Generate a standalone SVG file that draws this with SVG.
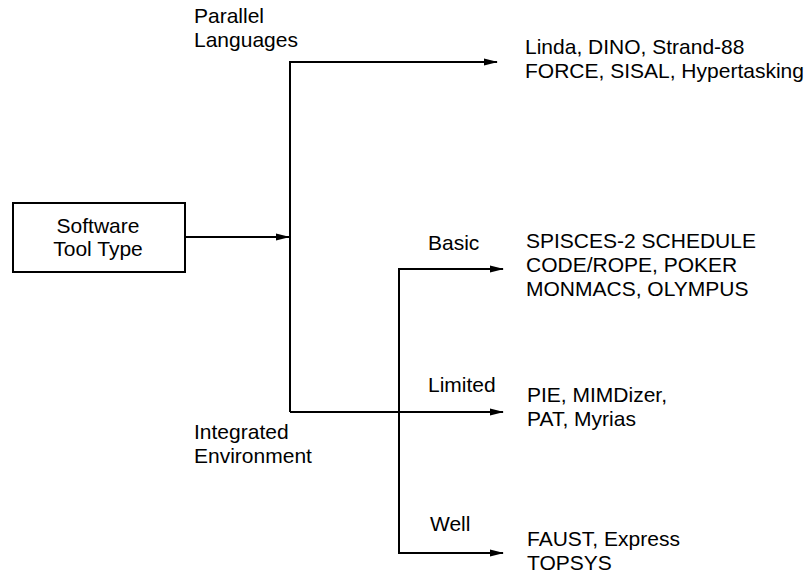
<svg xmlns="http://www.w3.org/2000/svg" width="808" height="574" viewBox="0 0 808 574">
<style>
text{font-family:"Liberation Sans",Arial,Helvetica,sans-serif;font-size:21px;fill:#000}
.c{fill:none;stroke:#000;stroke-width:2}
</style>
<defs>
<marker id="ah" markerWidth="14" markerHeight="8" refX="13" refY="4" orient="auto" markerUnits="userSpaceOnUse">
<path d="M0,0.5 L14,4 L0,7.5 Z" fill="#000"/>
</marker>
</defs>
<rect width="808" height="574" fill="#fff"/>
<g id="connectors">
<line class="c" x1="185" y1="237" x2="289" y2="237" marker-end="url(#ah)"/>
<polyline class="c" points="290,412 290,62 497,62" marker-end="url(#ah)"/>
<line class="c" x1="290" y1="412" x2="503" y2="412" marker-end="url(#ah)"/>
<polyline class="c" points="503,269 399,269 399,553 503,553"/>
<line class="c" x1="420" y1="269" x2="503" y2="269" marker-end="url(#ah)"/>
<line class="c" x1="420" y1="553" x2="503" y2="553" marker-end="url(#ah)"/>
</g>
<g id="software-tool-type">
<rect x="13" y="203" width="172" height="69" fill="none" stroke="#000" stroke-width="2"/>
<text x="98" y="233" text-anchor="middle">Software</text>
<text x="98" y="256" text-anchor="middle">Tool Type</text>
</g>
<g id="label-parallel">
<text x="194" y="23">Parallel</text>
<text x="194" y="47">Languages</text>
</g>
<g id="label-integrated">
<text x="194" y="439">Integrated</text>
<text x="194" y="463">Environment</text>
</g>
<g id="label-basic"><text x="428" y="250">Basic</text></g>
<g id="label-limited"><text x="428" y="392">Limited</text></g>
<g id="label-well"><text x="430" y="531">Well</text></g>
<g id="parallel-tools">
<text x="525" y="54">Linda, DINO, Strand-88</text>
<text x="525" y="78">FORCE, SISAL, Hypertasking</text>
</g>
<g id="basic-tools">
<text x="526" y="248">SPISCES-2 SCHEDULE</text>
<text x="526" y="272">CODE/ROPE, POKER</text>
<text x="526" y="296">MONMACS, OLYMPUS</text>
</g>
<g id="limited-tools">
<text x="527" y="402">PIE, MIMDizer,</text>
<text x="527" y="426">PAT, Myrias</text>
</g>
<g id="well-tools">
<text x="527" y="546">FAUST, Express</text>
<text x="527" y="570">TOPSYS</text>
</g>
</svg>
